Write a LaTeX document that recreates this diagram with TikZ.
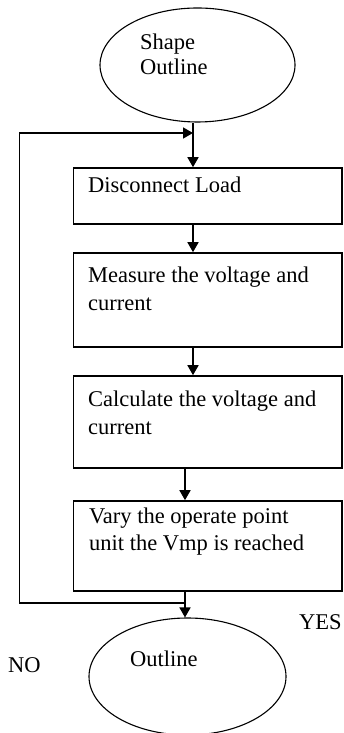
\documentclass[tikz,border=0pt]{standalone}
\usepackage{fontspec}
\setmainfont{Liberation Serif}
\usetikzlibrary{arrows.meta,shapes.geometric,calc}
\begin{document}
\begin{tikzpicture}[x=1pt,y=1pt,
  every node/.style={font=\fontsize{22.5}{27}\selectfont},
  stepbox/.style={draw,line width=1.6pt,rectangle,inner sep=0pt,minimum width=268.4pt},
  oval/.style={draw,line width=1.1pt,ellipse,inner sep=0pt},
  txt/.style={anchor=base west,inner sep=0pt},
  conn/.style={line width=1.6pt},
  arr/.style={conn,-{Triangle[length=10pt,width=11pt]}}]
\useasboundingbox (0,0) rectangle (343,733);
% shapes
\node[oval,minimum width=195pt,minimum height=114pt] (e1) at (197.5,668) {};
\node[stepbox,minimum height=56pt] (b1) at (207.5,537) {};
\node[stepbox,minimum height=94pt] (b2) at (207.5,433) {};
\node[stepbox,minimum height=92pt] (b3) at (207.5,311) {};
\node[stepbox,minimum height=90pt] (b4) at (207.5,187) {};
\node[oval,minimum width=197pt,minimum height=117pt] (e2) at (187.5,56.5) {};
% texts
\node[txt] (t0a) at (140,683) {Shape};
\node[txt] (t0b) at (140,658) {Outline};
\node[txt] (t1) at (88,540) {Disconnect Load};
\node[txt] (t2a) at (88,450) {Measure the voltage and};
\node[txt] (t2b) at (88,422) {current};
\node[txt] (t3a) at (88,326) {Calculate the voltage and};
\node[txt] (t3b) at (88,298) {current};
\node[txt] (t4a) at (89,209) {Vary the operate point};
\node[txt] (t4b) at (89,182) {unit the Vmp is reached};
\node[txt] (t5) at (130,66) {Outline};
\node[txt] (yes) at (299,103) {YES};
\node[txt] (no) at (8,60) {NO};
% junctions
\coordinate (jtop) at (193,600);
\coordinate (jbot) at (185,130);
\coordinate (lt) at (19.3,600);
\coordinate (lb) at (19.3,130);
% connectors
\draw[arr] (jtop |- e1.south) -- (jtop |- b1.north);
\draw[arr] (jtop |- b1.south) -- (jtop |- b2.north);
\draw[arr] (jtop |- b2.south) -- (jtop |- b3.north);
\draw[arr] (jbot |- b3.south) -- (jbot |- b4.north);
\draw[arr] (jbot |- b4.south) -- (jbot |- e2.north);
\draw[arr] (jbot) -- (lb) -- (lt) -- (jtop);
\end{tikzpicture}
\end{document}
